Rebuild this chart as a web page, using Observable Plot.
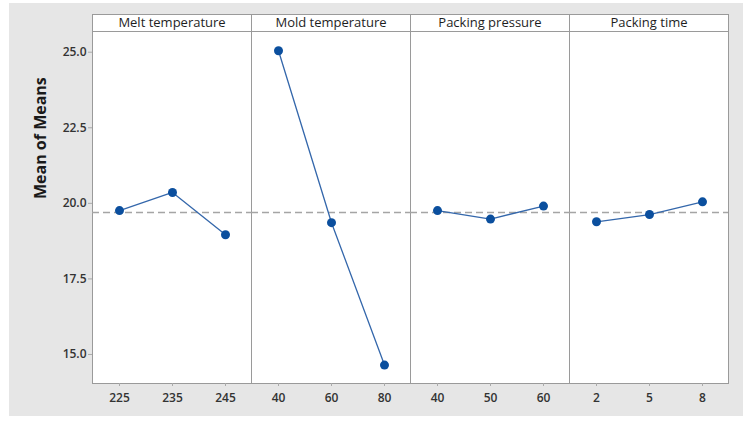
<!DOCTYPE html>
<html>
<head>
<meta charset="utf-8">
<script src="https://cdn.jsdelivr.net/npm/d3@7"></script>
<script src="https://cdn.jsdelivr.net/npm/@observablehq/plot@0.6"></script>
<style>
  html, body { margin: 0; padding: 0; background: #ffffff; }
  #chart { position: absolute; left: 9px; top: 3px; }
  #chart svg { display: block; }
</style>
</head>
<body>
<div id="chart"></div>
<script>
// Main effects plot for means: one panel per factor
const factors = ["Melt temperature", "Mold temperature", "Packing pressure", "Packing time"];

const meltLevels = ["225", "235", "245"];
const meltMeans = [19.76, 20.36, 18.96];

const moldLevels = ["40", "60", "80"];
const moldMeans = [25.05, 19.36, 14.65];

const pressureLevels = ["40", "50", "60"];
const pressureMeans = [19.76, 19.48, 19.91];

const timeLevels = ["2", "5", "8"];
const timeMeans = [19.39, 19.63, 20.05];

const grandMean = 19.70;
const yTicks = [15, 17.5, 20, 22.5, 25];

const levelSets = [meltLevels, moldLevels, pressureLevels, timeLevels];
const meanSets = [meltMeans, moldMeans, pressureMeans, timeMeans];

const rows = factors.flatMap((factor, f) =>
  levelSets[f].map((level, i) => ({factor, idx: i, level, mean: meanSets[f][i]}))
);

const font = "'Open Sans', 'Noto Sans', sans-serif";
const border = "#9a9a9a";

const chart = Plot.plot({
  width: 734,
  height: 413,
  marginLeft: 81,
  marginRight: 14,
  marginTop: 28,
  marginBottom: 33,
  style: {background: "#e6e6e6", fontFamily: font, fontSize: "12px", color: "#333"},
  fx: {domain: factors, padding: 0, axis: null},
  x: {type: "point", domain: [0, 1, 2], padding: 0.5, axis: null},
  y: {domain: [14.04, 25.685], axis: null},
  marks: [
    // panel background and header strips
    Plot.frame({fill: "white", insetTop: -17}),
    Plot.frame({stroke: border, insetTop: -17}),
    Plot.frame({anchor: "top", stroke: border}),
    Plot.text(factors, {fx: d => d, text: d => d, frameAnchor: "top", lineAnchor: "middle",
      dy: -8.5, fontSize: 13, fill: "#1e1e1e"}),
    // grand mean reference line
    Plot.ruleY([grandMean], {stroke: "#a5a5a5", strokeWidth: 1.5, strokeDasharray: "7,4"}),
    // factor level means
    Plot.line(rows, {fx: "factor", x: "idx", y: "mean", stroke: "#3467ab", strokeWidth: 1.3}),
    Plot.dot(rows, {fx: "factor", x: "idx", y: "mean", fill: "#0b4f9e", r: 4.5}),
    // level tick marks and labels
    Plot.axisX({ticks: [0, 1, 2], tickSize: 3, tickFormat: () => "", stroke: "#aaa", label: null}),
    Plot.text(rows, {fx: "factor", x: "idx", text: "level", frameAnchor: "bottom", lineAnchor: "middle",
      dy: 15, fontSize: 12, fontWeight: 600, fill: "#333"}),
    // y axis
    Plot.axisY({ticks: yTicks, tickFormat: d3.format(".1f"), tickSize: 4, tickPadding: 2,
      stroke: "#aaa", fill: "#333", fontSize: 12, fontWeight: 600, label: null}),
    Plot.text(["Mean of Means"], {fx: () => factors[0], text: d => d, frameAnchor: "left",
      rotate: -90, dx: -52, dy: -8.5, fontSize: 16, fontWeight: "bold", fill: "#1a1a1a"})
  ]
});

document.getElementById("chart").append(chart);
</script>
</body>
</html>
